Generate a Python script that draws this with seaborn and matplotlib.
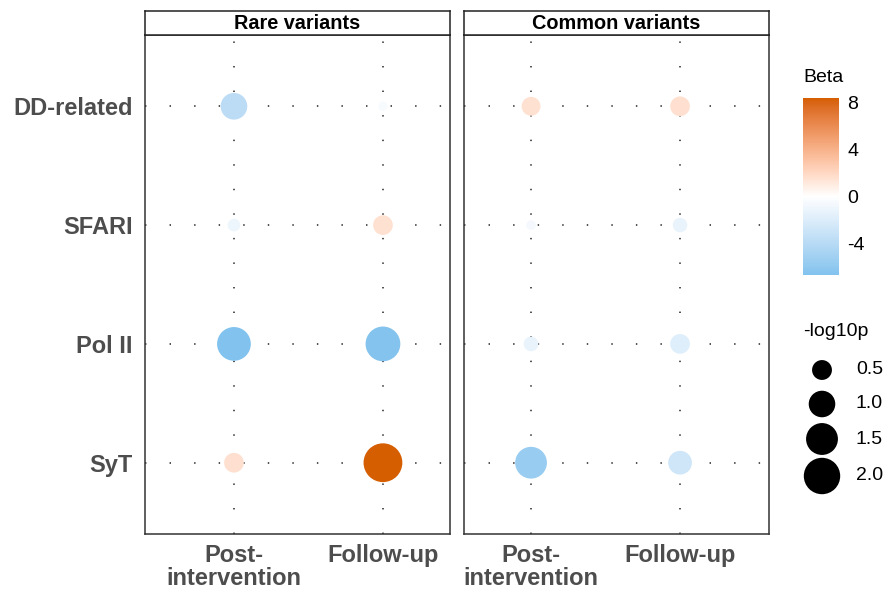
import numpy as np
import pandas as pd
import matplotlib
matplotlib.use("Agg")
import matplotlib.pyplot as plt
import matplotlib.colors as mcolors
import seaborn as sns

# ---------------- data ----------------
gene_sets = ["DD-related", "SFARI", "Pol II", "SyT"]
timepoints = ["Post-\nintervention", "Follow-up"]
panels = ["Rare variants", "Common variants"]

rare_beta_post = [-3.8, -1.0, -6.7, 1.6]
rare_beta_follow = [-0.4, 1.5, -6.6, 8.4]
rare_logp_post = [1.01, 0.12, 1.70, 0.49]
rare_logp_follow = [0.00, 0.49, 1.81, 2.29]

common_beta_post = [1.5, -0.6, -1.3, -5.6]
common_beta_follow = [1.6, -1.3, -1.9, -2.8]
common_logp_post = [0.44, 0.02, 0.21, 1.49]
common_logp_follow = [0.49, 0.20, 0.49, 0.77]

beta_ticks = [-4, 0, 4, 8]
size_breaks = [0.5, 1.0, 1.5, 2.0]
size_break_labels = ["0.5", "1.0", "1.5", "2.0"]

# --------------- build table ---------------
rows = []
for panel, bp, bf, lp, lf in [
    ("Rare variants", rare_beta_post, rare_beta_follow, rare_logp_post, rare_logp_follow),
    ("Common variants", common_beta_post, common_beta_follow, common_logp_post, common_logp_follow),
]:
    for i, g in enumerate(gene_sets):
        rows.append(dict(panel=panel, gene=g, time=timepoints[0], beta=bp[i], logp=lp[i]))
        rows.append(dict(panel=panel, gene=g, time=timepoints[1], beta=bf[i], logp=lf[i]))
df = pd.DataFrame(rows)
ycode = {g: len(gene_sets) - 1 - i for i, g in enumerate(gene_sets)}
xcode = {t: i for i, t in enumerate(timepoints)}
df["y"] = df["gene"].map(ycode)
df["x"] = df["time"].map(xcode)

# --------------- colour scale (Lab interpolation, gradient2 style) ---------------
WHITE = np.array([0.95047, 1.0, 1.08883])
M = np.array([[0.4124564, 0.3575761, 0.1804375],
              [0.2126729, 0.7151522, 0.0721750],
              [0.0193339, 0.1191920, 0.9503041]])
Minv = np.linalg.inv(M)


def to_lab(c):
    rgb = np.array(mcolors.to_rgb(c))
    lin = np.where(rgb <= 0.04045, rgb / 12.92, ((rgb + 0.055) / 1.055) ** 2.4)
    xyz = M @ lin / WHITE
    f = np.where(xyz > 0.008856, np.cbrt(xyz), 7.787 * xyz + 16 / 116)
    return np.array([116 * f[1] - 16, 500 * (f[0] - f[1]), 200 * (f[1] - f[2])])


def from_lab(lab):
    L, a, b = lab
    fy_ = (L + 16) / 116
    fx_ = fy_ + a / 500
    fz_ = fy_ - b / 200
    f = np.array([fx_, fy_, fz_])
    xyz = np.where(f ** 3 > 0.008856, f ** 3, (f - 16 / 116) / 7.787) * WHITE
    lin = Minv @ xyz
    lin = np.clip(lin, 0, 1)
    rgb = np.where(lin <= 0.0031308, 12.92 * lin, 1.055 * lin ** (1 / 2.4) - 0.055)
    return np.clip(rgb, 0, 1)


low_lab, mid_lab, high_lab = to_lab("#56B4E9"), to_lab("#FFFFFF"), to_lab("#D55E00")
bmin = min(df["beta"])
bmax = max(df["beta"])
ext = max(abs(bmin), abs(bmax))
vals = np.linspace(bmin, bmax, 256)
cols = []
for v in vals:
    if v < 0:
        t = -v / ext
        cols.append(from_lab(mid_lab + (low_lab - mid_lab) * t))
    else:
        t = v / ext
        cols.append(from_lab(mid_lab + (high_lab - mid_lab) * t))
cmap = mcolors.ListedColormap(cols)
cnorm = mcolors.Normalize(bmin, bmax)

# --------------- size scale ---------------
PX2PT = (72 / 100) ** 2
size_norm = (0.0, 2.5)
sizes = (PX2PT * (85 + 620 * size_norm[0]), PX2PT * (85 + 620 * size_norm[1]))


def size_of(v):
    return sizes[0] + (sizes[1] - sizes[0]) * (v - size_norm[0]) / (size_norm[1] - size_norm[0])


# --------------- figure ---------------
sns.set_theme(style="white")
plt.rcParams["font.family"] = ["Liberation Sans", "DejaVu Sans"]
plt.rcParams["axes.unicode_minus"] = False
W, H = 887, 592
fig = plt.figure(figsize=(W / 100, H / 100), dpi=100)


def fx(px):
    return px / W


def fy(py):
    return 1 - py / H


panel_x = [(145, 450), (464, 769)]
panel_top, panel_bot = 35, 534
strip_top = 10.5
xlims = [(-0.597, 1.45), (-0.45, 1.597)]
grid_col = "#444444"
axes = []
for k, panel in enumerate(panels):
    x0, x1 = panel_x[k]
    ax = fig.add_axes([fx(x0), fy(panel_bot), (x1 - x0) / W, (panel_bot - panel_top) / H])
    sub = df[df["panel"] == panel]
    for yy in range(len(gene_sets)):
        ax.axhline(yy, color=grid_col, lw=1.3, linestyle=(0, (0.8, 12.8)), zorder=1)
    for xx in range(len(timepoints)):
        ax.axvline(xx, color=grid_col, lw=1.3, linestyle=(0, (0.8, 12.8)), zorder=1)
    sns.scatterplot(data=sub, x="x", y="y", hue="beta", size="logp",
                    palette=cmap, hue_norm=cnorm, sizes=sizes, size_norm=size_norm,
                    linewidth=0, legend=False, ax=ax, zorder=3)
    ax.set_xlim(*xlims[k])
    ax.set_ylim(-0.6, len(gene_sets) - 1 + 0.6)
    ax.set_xticks(range(len(timepoints)))
    ax.set_xticklabels(timepoints, fontsize=17, fontweight="bold", color="#4D4D4D",
                       linespacing=1.02, va="top")
    ax.set_yticks(range(len(gene_sets)))
    if k == 0:
        ax.set_yticklabels([gene_sets[len(gene_sets) - 1 - i] for i in range(len(gene_sets))],
                           fontsize=17, fontweight="bold", color="#4D4D4D")
    else:
        ax.set_yticklabels([])
        ax.tick_params(axis="y", left=False)
    ax.tick_params(axis="both", direction="out", length=4, width=0.8, color="#888888", pad=3)
    if k == 0:
        ax.tick_params(axis="y", pad=5)
    ax.set_xlabel("")
    ax.set_ylabel("")
    for s in ax.spines.values():
        s.set_color("#333333")
        s.set_linewidth(1.1)
    ax.grid(False)
    # strip
    sax = fig.add_axes([fx(x0), fy(panel_top), (x1 - x0) / W, (panel_top - strip_top) / H])
    sax.set_xticks([])
    sax.set_yticks([])
    sax.set_facecolor("white")
    for s in sax.spines.values():
        s.set_color("#222222")
        s.set_linewidth(1.1)
    sax.text(0.5, 0.45, panel, ha="center", va="center", fontsize=14.3,
             fontweight="bold", color="black", transform=sax.transAxes)
    axes.append(ax)

# --------------- colourbar ---------------
cax = fig.add_axes([fx(803), fy(275), 36 / W, 177 / H])
sm = plt.cm.ScalarMappable(norm=cnorm, cmap=cmap)
cb = fig.colorbar(sm, cax=cax, ticks=beta_ticks)
cb.outline.set_visible(False)
cax.tick_params(which="both", direction="in", color="white", length=5.5, width=0.9,
                left=True, right=True, labelleft=False, labelright=True,
                labelsize=14, labelcolor="black", pad=6)
cax.minorticks_off()
fig.text(fx(803), fy(78), "Beta", ha="left", va="center", fontsize=14, color="black")

# --------------- size legend ---------------
fig.text(fx(803), fy(331), "-log10p", ha="left", va="center", fontsize=14, color="black")
lax = fig.add_axes([0, 0, 1, 1], facecolor="none")
lax.set_xlim(0, W)
lax.set_ylim(H, 0)
lax.axis("off")
leg_y = [370, 404, 439, 476]
lax.scatter([822] * len(size_breaks), leg_y, s=[size_of(v) for v in size_breaks],
            color="black", linewidth=0)
for yy, lab in zip(leg_y, size_break_labels):
    lax.text(856, yy, lab, ha="left", va="center", fontsize=14, color="black")

fig.savefig("out.png", dpi=100)
